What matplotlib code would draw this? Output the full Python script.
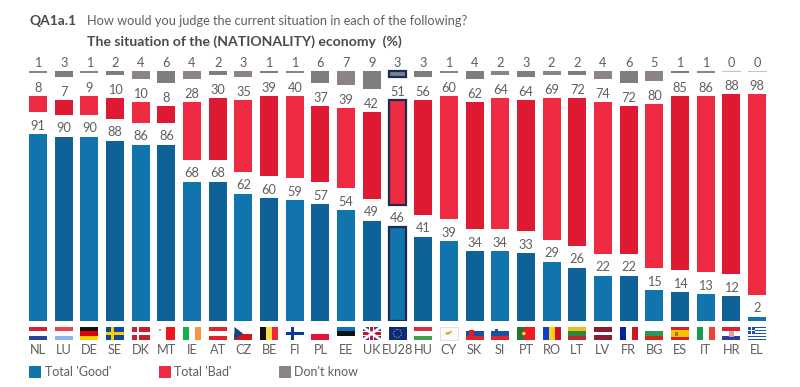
import matplotlib
matplotlib.use("Agg")
import matplotlib.pyplot as plt
from matplotlib.patches import Rectangle, Circle

categories = ["NL","LU","DE","SE","DK","MT","IE","AT","CZ","BE","FI","PL","EE","UK","EU28",
              "HU","CY","SK","SI","PT","RO","LT","LV","FR","BG","ES","IT","HR","EL"]
good = [91,90,90,88,86,86,68,68,62,60,59,57,54,49,46,41,39,34,34,33,29,26,22,22,15,14,13,12,2]
bad = [8,7,9,10,10,8,28,30,35,39,40,37,39,42,51,56,60,62,64,64,69,72,74,72,80,85,86,88,98]
dont_know = [1,3,1,2,4,6,4,2,3,1,1,6,7,9,3,3,1,4,2,3,2,2,4,6,5,1,1,0,0]
legend_labels = ["Total 'Good'", "Total 'Bad'", "Don't know"]
title_code = "QA1a.1"
title_question = "How would you judge the current situation in each of the following?"
title_sub = "The situation of the (NATIONALITY) economy  (%)"

plt.rcParams['font.family'] = ['Lato', 'DejaVu Sans']
TXT = "#5f5f5f"
W, H = 800, 387
fig = plt.figure(figsize=(W/100, H/100), dpi=100, facecolor="white")

PXU = 2.05
X0, DX, BASE, TOP = 38.0, (757.0-38.0)/28, 321.0, 50.0
left = X0 - DX/2
ax = fig.add_axes([left/W, (H-BASE)/H, DX*29/W, (BASE-TOP)/H])
ax.set_xlim(-0.5, 28.5)
ax.set_ylim(0, (BASE-TOP)/PXU)
ax.axis("off")

GAP = 22/PXU
GRAY_TOP = (BASE-71)/PXU
LIFT = 1.2

cb = ["#1274ad", "#0e6297"]
cr = ["#ee2b42", "#dd1a32"]
cg = ["#8b8388", "#7e7e80"]
n = len(categories)
xs = list(range(n))
EU = categories.index("EU28")
FS = 9.2
for i in xs:
    k = i % 2
    e = dict(edgecolor="#1c2b50", linewidth=1.6) if i == EU else dict(linewidth=0)
    wid = 0.66 if i == EU else 0.70
    ax.bar(i, good[i], width=wid, color=cb[k], **e)
    rb = good[i] + GAP
    ax.bar(i, bad[i], bottom=rb, width=wid, color=cr[k], **e)
    if dont_know[i] > 0:
        ax.bar(i, dont_know[i], bottom=GRAY_TOP - dont_know[i], width=wid,
               color="#7a8296" if i == EU else cg[k], **e)
    else:
        ax.plot([i-0.35, i+0.35], [GRAY_TOP, GRAY_TOP], color="#c4c4c4", lw=0.8)
    ax.text(i, good[i] + LIFT, str(good[i]), ha="center", va="bottom", fontsize=FS, color=TXT)
    ax.text(i, rb + bad[i] + LIFT, str(bad[i]), ha="center", va="bottom", fontsize=FS, color=TXT)
    ax.text(i, GRAY_TOP + LIFT - 0.2, str(dont_know[i]), ha="center", va="bottom", fontsize=FS, color=TXT)

ov = fig.add_axes([0, 0, 1, 1])
ov.set_xlim(0, W); ov.set_ylim(H, 0); ov.axis("off"); ov.patch.set_alpha(0)

ov.text(29, 21, title_code, fontsize=10, fontweight="bold", color="#4a4a4a", va="center")
ov.text(87, 21, title_question, fontsize=9.2, color=TXT, va="center")
ov.text(87, 42, title_sub, fontsize=10.1, fontweight="bold", color="#4a4a4a", va="center")

flags = {
 "NL":("h",["#d8202e","#ffffff","#21469b"]), "LU":("h",["#ef4050","#ffffff","#8ab4f0"]),
 "DE":("h",["#111111","#dd0000","#ffce00"]), "SE":("h",["#0a4aa0"]), "DK":("h",["#c8202e"]),
 "MT":("v",["#ffffff","#f0151f"]), "IE":("v",["#16b04a","#ffffff","#f79540"]),
 "AT":("h",["#e3242b","#ffffff","#e3242b"]), "CZ":("h",["#ffffff","#d7141a"]),
 "BE":("v",["#111111","#fae042","#ed2939"]), "FI":("h",["#ffffff"]),
 "PL":("h",["#ffffff","#e0143c"]), "EE":("h",["#1070c0","#111111","#ffffff"]),
 "UK":("h",["#e8e8f2"]), "EU28":("h",["#0b2a80"]), "HU":("h",["#d5303e","#ffffff","#3fa04a"]),
 "CY":("h",["#fbfbfb"]), "SK":("h",["#ffffff","#1d4ea0","#e3242b"]),
 "SI":("h",["#ffffff","#1d4ea0","#e3242b"]), "PT":("v",["#1a7a30","#1a7a30","#ee1c25","#ee1c25","#ee1c25"]),
 "RO":("v",["#0b3fd0","#fcd116","#ce1126"]), "LT":("h",["#fdb913","#2a8a45","#c1272d"]),
 "LV":("h",["#8d1b2e","#8d1b2e","#ffffff","#8d1b2e","#8d1b2e"]), "FR":("v",["#0a1f9c","#ffffff","#d0161f"]),
 "BG":("h",["#ffffff","#2a9a5a","#d62612"]), "ES":("h",["#d8202a","#f5c400","#f5c400","#d8202a"]),
 "IT":("v",["#169b52","#ffffff","#ef4135"]), "HR":("h",["#e0202a","#ffffff","#2a3fa0"]),
 "EL":("h",["#1b4fb0","#ffffff","#1b4fb0","#ffffff","#1b4fb0","#ffffff","#1b4fb0","#ffffff","#1b4fb0"]),
}
FY, FH, FW = 327.0, 13.0, 18.0
def rect(x, y, w, h, c):
    ov.add_patch(Rectangle((x, y), w, h, facecolor=c, linewidth=0))
for i, code in enumerate(categories):
    cx = X0 + i*DX
    fx = cx - FW/2
    ori, cols = flags[code]
    m = len(cols)
    for j, c in enumerate(cols):
        if ori == "h":
            rect(fx, FY + j*FH/m, FW, FH/m, c)
        else:
            rect(fx + j*FW/m, FY, FW/m, FH, c)
    if code == "SE":
        rect(fx+5, FY, 3, FH, "#fecc00"); rect(fx, FY+5, FW, 3, "#fecc00")
    if code == "DK":
        rect(fx+5, FY, 2.5, FH, "white"); rect(fx, FY+5.2, FW, 2.5, "white")
    if code == "FI":
        rect(fx+5, FY, 3.5, FH, "#0b3a94"); rect(fx, FY+4.8, FW, 3.5, "#0b3a94")
    if code == "CZ":
        ov.fill([fx, fx+8.5, fx], [FY, FY+FH/2, FY+FH], color="#11457e", lw=0)
    if code == "UK":
        rect(fx, FY, FW, FH, "#2a3f8f")
        ov.plot([fx, fx+FW], [FY, FY+FH], color="white", lw=2.0, solid_capstyle="butt")
        ov.plot([fx, fx+FW], [FY+FH, FY], color="white", lw=2.0, solid_capstyle="butt")
        rect(fx+6.5, FY, 5, FH, "white"); rect(fx, FY+4, FW, 5, "white")
        rect(fx+7.5, FY, 3, FH, "#c8102e"); rect(fx, FY+5, FW, 3, "#c8102e")
    if code == "EU28":
        ov.add_patch(Circle((cx, FY+FH/2), 4, fill=False, edgecolor="#e8d030", lw=0.7, ls=":"))
    if code == "CY":
        ov.add_patch(Rectangle((fx, FY), FW, FH, fill=False, edgecolor="#d8d8d8", lw=0.5))
        ov.fill([cx-4, cx+4, cx+1, cx-2], [FY+6, FY+3.5, FY+7, FY+8], color="#d9a441", lw=0)
    if code == "SK":
        rect(fx+3.5, FY+3, 5, 7, "#d8202a")
    if code == "SI":
        rect(fx+3.5, FY+1.5, 3.5, 4, "#1d4ea0")
    if code == "PT":
        ov.add_patch(Circle((fx+7, FY+FH/2), 2.3, facecolor="#f2d23c", edgecolor="#c01a1a", lw=0.6))
    if code == "ES":
        rect(fx+4.5, FY+4.5, 3, 4, "#b5651d")
    if code == "HR":
        rect(cx-2.5, FY+3.5, 5, 6, "#e89aa0")
    if code == "EL":
        rect(fx, FY, 7, 7.2, "#1b4fb0"); rect(fx+2.8, FY, 1.5, 7.2, "white"); rect(fx, FY+2.9, 7, 1.5, "white")
    if code == "MT":
        rect(fx+1.5, FY+1.5, 2, 2, "#a0a0a0")
    ov.text(cx, 350, code, ha="center", va="center", fontsize=FS, color=TXT)

for lab, sx, tx, c in zip(legend_labels, [29, 159, 279], [45, 174, 294], [cb[0], cr[0], cg[0]]):
    rect(sx, 366, 12, 12, c)
    ov.text(tx, 372, lab, fontsize=9, color=TXT, va="center")

fig.savefig("out.png", dpi=100)
